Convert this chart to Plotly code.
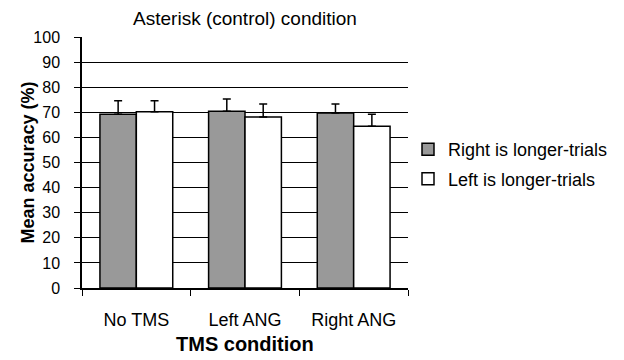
import plotly.graph_objects as go

categories = ["No TMS", "Left ANG", "Right ANG"]
right_longer = [69.2, 70.4, 69.7]
right_err = [5.4, 4.9, 3.6]
left_longer = [70.2, 68.1, 64.4]
left_err = [4.4, 5.2, 4.8]
y_ticks = list(range(0, 101, 10))

FONT = "Liberation Sans, Arial, sans-serif"

fig = go.Figure()
fig.add_trace(go.Bar(
    x=categories, y=right_longer, name="Right is longer-trials",
    marker=dict(color="#999999", line=dict(color="black", width=1.5)),
    error_y=dict(type="data", array=right_err, symmetric=False, arrayminus=[0] * 3,
                 color="black", thickness=1.5, width=4),
    legendgroup="a",
))
fig.add_trace(go.Bar(
    x=categories, y=left_longer, name="Left is longer-trials",
    marker=dict(color="white", line=dict(color="black", width=1.5)),
    error_y=dict(type="data", array=left_err, symmetric=False, arrayminus=[0] * 3,
                 color="black", thickness=1.5, width=4),
    legendgroup="b",
))

fig.update_layout(
    width=616, height=352,
    margin=dict(l=74, r=216, t=29, b=72, autoexpand=False),
    paper_bgcolor="white", plot_bgcolor="white",
    font=dict(family=FONT, size=18, color="black"),
    barmode="group", bargap=0.33, bargroupgap=0,
    title=dict(text="Asterisk (control) condition", x=0.5, xref="paper", xanchor="center",
               y=0.972, yref="container", yanchor="middle", font=dict(size=19)),
    legend=dict(x=1.0, y=0.625, xanchor="left", yanchor="top",
                font=dict(size=18), tracegroupgap=3, bgcolor="rgba(0,0,0,0)",
                itemwidth=30),
    annotations=[
        dict(text="<b>Mean accuracy (%)</b>", xref="paper", yref="paper", x=0, y=0.5,
             xanchor="center", yanchor="middle", xshift=-55, textangle=-90,
             showarrow=False, font=dict(size=18)),
        dict(text="<b>TMS condition</b>", xref="paper", yref="paper", x=0.5, y=0,
             xanchor="center", yanchor="middle", yshift=-56,
             showarrow=False, font=dict(size=20)),
    ],
)
fig.update_yaxes(
    range=[0, 100], tickvals=y_ticks, showgrid=True, gridcolor="black", gridwidth=1,
    showline=True, linecolor="black", linewidth=1.5, ticks="outside", ticklen=6,
    tickcolor="black", zeroline=False, tickfont=dict(size=16), ticklabelstandoff=11,
    automargin=False,
)
fig.update_xaxes(
    showline=True, linecolor="black", linewidth=1.5, ticks="outside", ticklen=6,
    tickson="boundaries", tickcolor="black", tickfont=dict(size=18), ticklabelstandoff=15,
    automargin=False,
)

fig.write_html("out.html")
